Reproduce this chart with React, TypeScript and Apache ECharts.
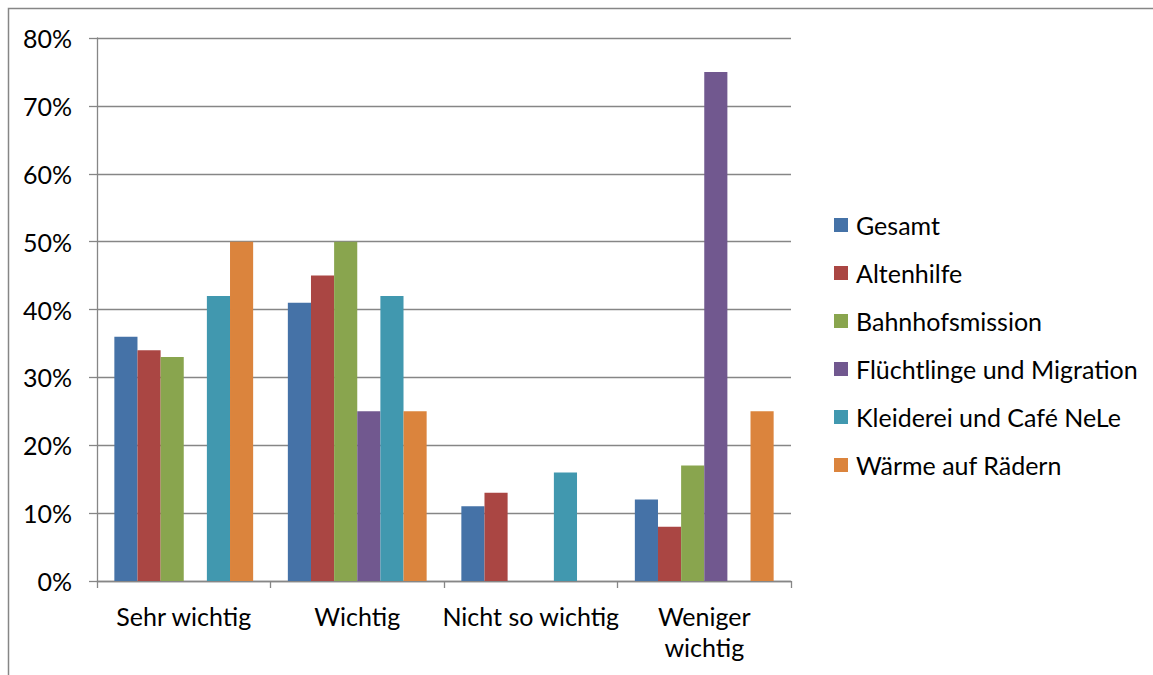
import React, { useEffect, useRef } from "react";
import * as echarts from "echarts";

const categories = ["Sehr wichtig", "Wichtig", "Nicht so wichtig", "Weniger\nwichtig"];
const seriesNames = [
  "Gesamt",
  "Altenhilfe",
  "Bahnhofsmission",
  "Flüchtlinge und Migration",
  "Kleiderei und Café NeLe",
  "Wärme auf Rädern",
];
const gesamt = [36, 41, 11, 12];
const altenhilfe = [34, 45, 13, 8];
const bahnhofsmission = [33, 50, 0, 17];
const fluechtlinge = [0, 25, 0, 75];
const kleiderei = [42, 42, 16, 0];
const waerme = [50, 25, 0, 25];
const seriesValues = [gesamt, altenhilfe, bahnhofsmission, fluechtlinge, kleiderei, waerme];
const colors = ["#4572A7", "#AA4643", "#89A54E", "#71588F", "#4198AF", "#DB843D"];

const FONT = "Lato";
const FONT_SIZE = 25;
const GRAY = "#868686";

export default function App() {
  const ref = useRef<HTMLDivElement>(null);

  useEffect(() => {
    document.body.style.margin = "0";
    const chart = echarts.init(ref.current!, null, { renderer: "svg" });
    chart.setOption({
      animation: false,
      backgroundColor: "#ffffff",
      textStyle: { fontFamily: FONT, color: "#000" },
      color: colors,
      graphic: [
        {
          type: "rect",
          shape: { x: 8.5, y: 8.5, width: 1300, height: 800 },
          style: { fill: "none", stroke: GRAY, lineWidth: 1.5 },
          silent: true,
        },
      ],
      grid: { left: 97, right: 362, top: 38, bottom: 94, containLabel: false },
      legend: {
        orient: "vertical",
        left: 834,
        top: 210,
        padding: 0,
        itemWidth: 14,
        itemHeight: 14,
        itemGap: 18,
        icon: "rect",
        textStyle: {
          fontFamily: FONT,
          fontSize: FONT_SIZE,
          lineHeight: 30,
          color: "#000",
          padding: [0, 0, 0, 3],
        },
        data: seriesNames,
      },
      xAxis: {
        type: "category",
        data: categories,
        axisLine: { lineStyle: { color: GRAY, width: 1.3 } },
        axisTick: { show: true, length: 7, alignWithLabel: false, lineStyle: { color: GRAY, width: 1.3 } },
        axisLabel: {
          fontFamily: FONT,
          fontSize: FONT_SIZE,
          color: "#000",
          margin: 19,
          lineHeight: 31,
          interval: 0,
        },
      },
      yAxis: {
        type: "value",
        min: 0,
        max: 80,
        interval: 10,
        axisLine: { show: true, lineStyle: { color: GRAY, width: 1.3 } },
        axisTick: { show: true, length: 8, inside: false, lineStyle: { color: GRAY, width: 1.3 } },
        splitLine: { lineStyle: { color: GRAY, width: 1.3 } },
        axisLabel: {
          fontFamily: FONT,
          fontSize: FONT_SIZE,
          color: "#000",
          margin: 25,
          formatter: "{value}%",
        },
      },
      series: seriesNames.map((name, i) => ({
        name,
        type: "bar",
        data: seriesValues[i],
        barGap: "0%",
        barCategoryGap: "20%",
        itemStyle: { color: colors[i] },
      })),
    });
    return () => chart.dispose();
  }, []);

  return <div ref={ref} style={{ width: 1153, height: 675 }} />;
}
